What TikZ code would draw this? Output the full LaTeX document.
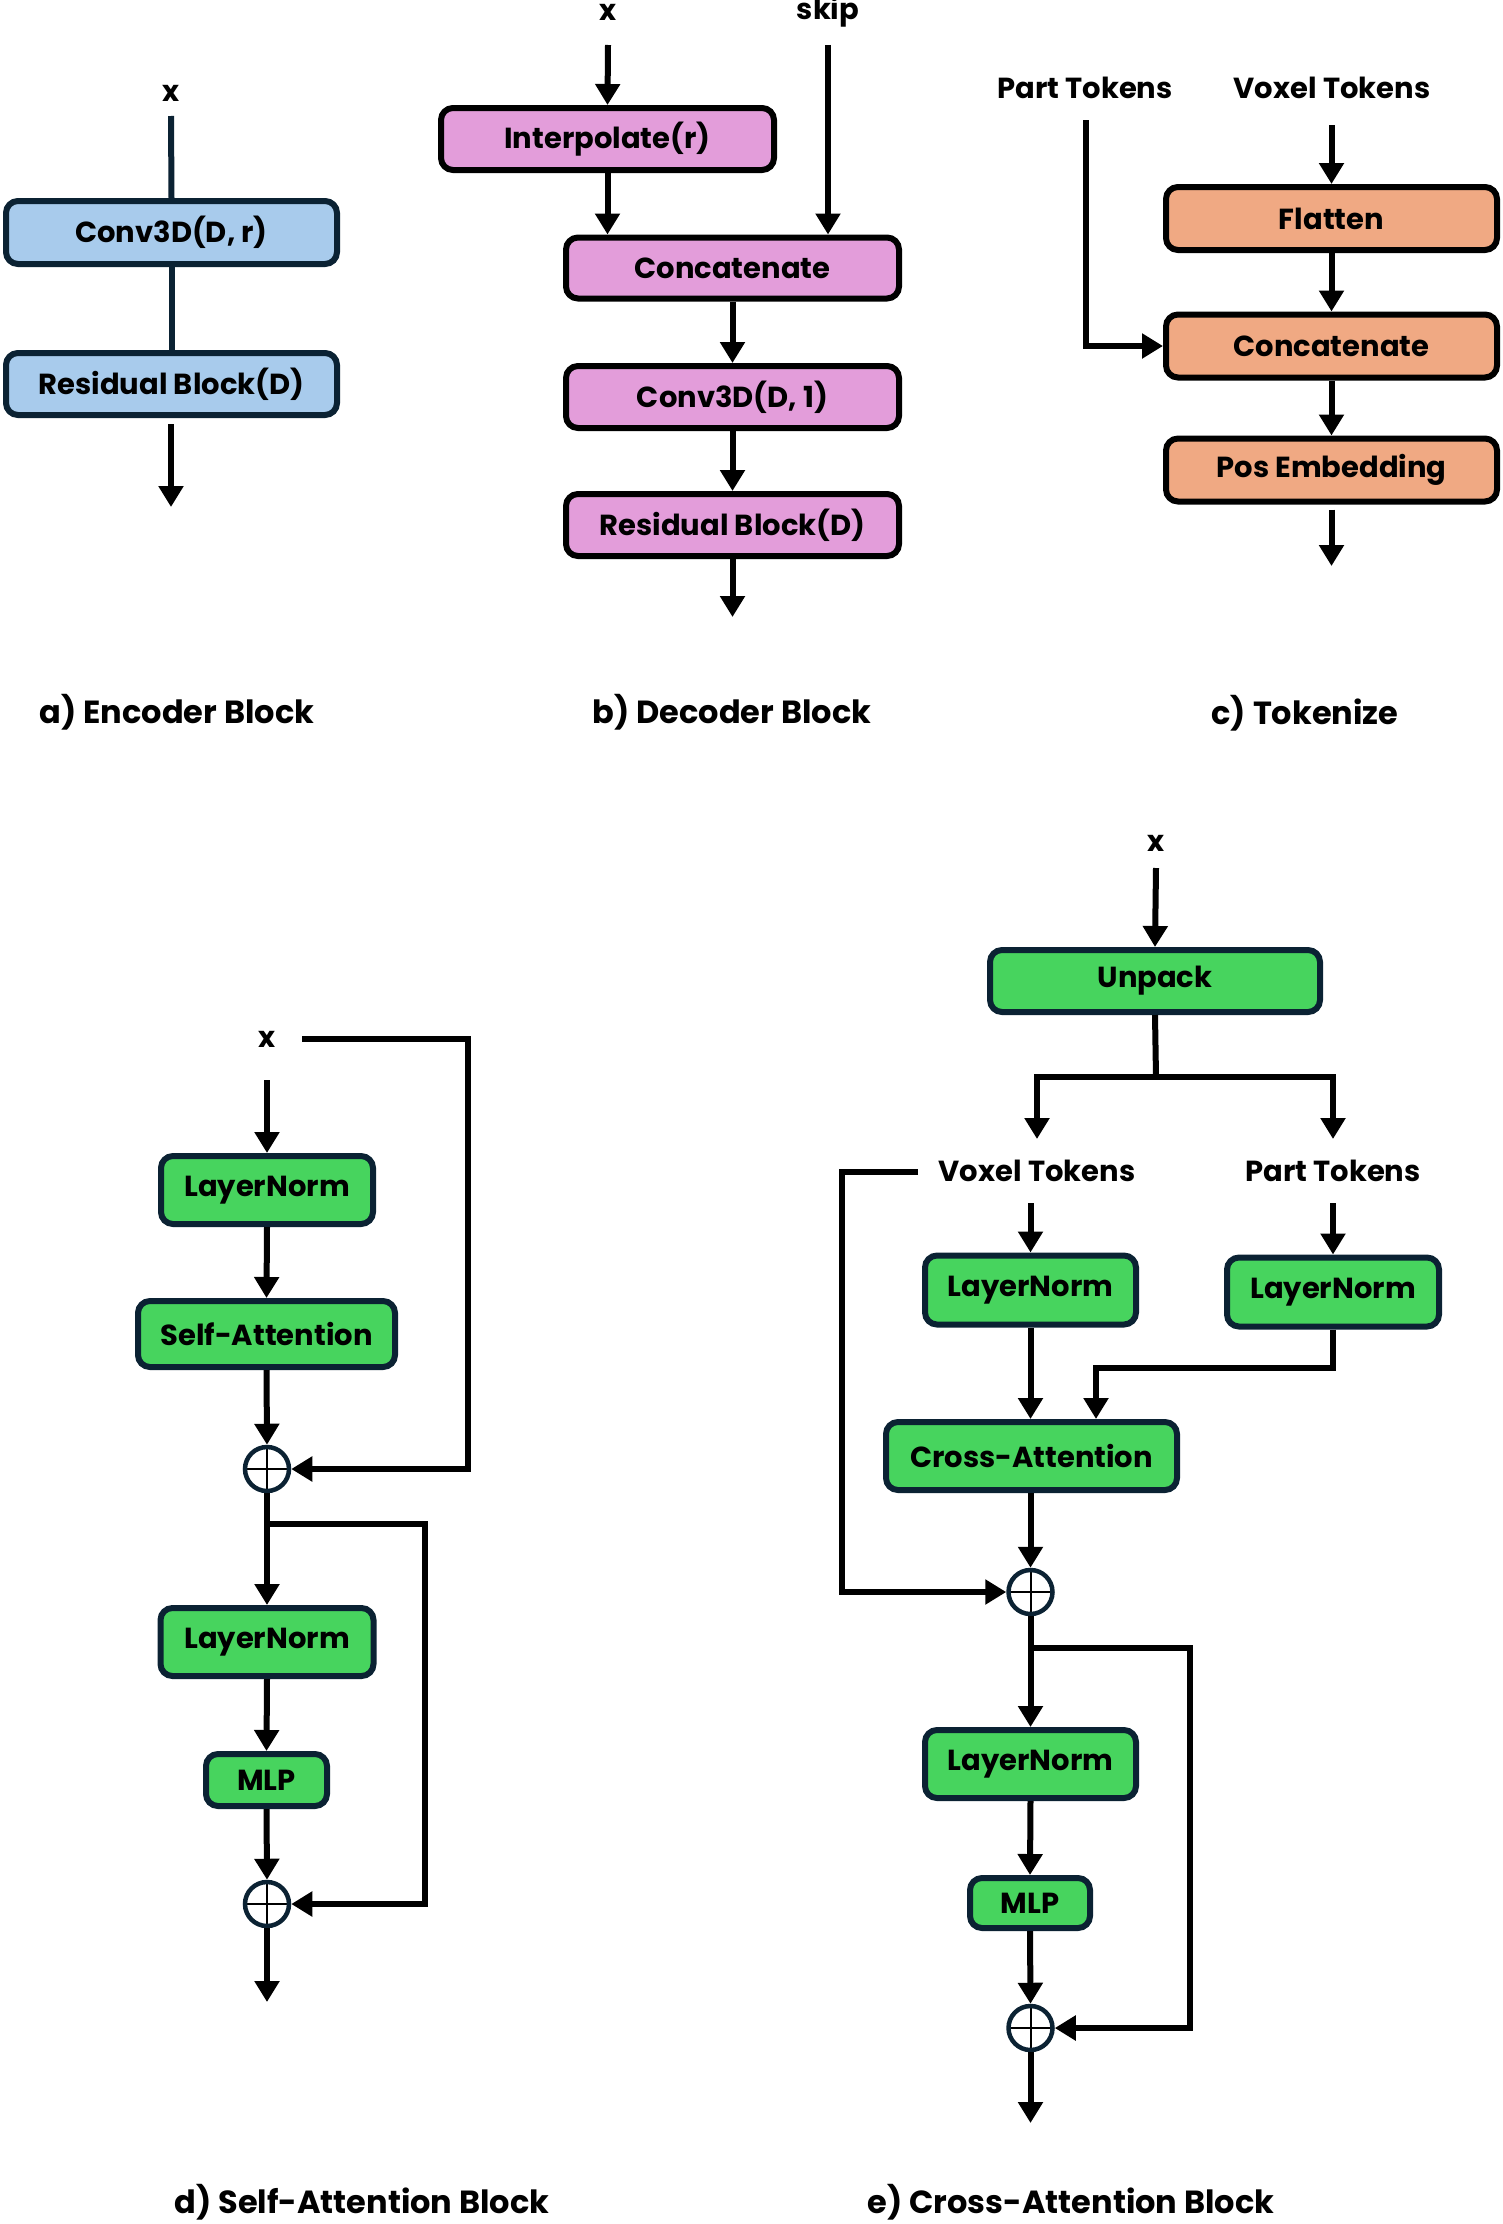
\documentclass[tikz,border=0pt]{standalone}
\usepackage{fontspec}
\setmainfont{Poppins}
\usetikzlibrary{arrows.meta,calc}
\definecolor{navy}{HTML}{0B2233}
\definecolor{blu}{HTML}{A8CBEC}
\definecolor{pnk}{HTML}{E39DDA}
\definecolor{org}{HTML}{F0A983}
\definecolor{grn}{HTML}{47D45E}
\begin{document}
\begin{tikzpicture}[x=1pt,y=-1pt,
  box/.style={draw=navy, line width=6pt, rounded corners=12pt, inner sep=0pt,
    font=\fontsize{29}{33}\selectfont\bfseries},
  lbl/.style={inner sep=0pt, font=\fontsize{29}{33}\selectfont\bfseries},
  ttl/.style={inner sep=0pt, font=\fontsize{32}{36}\selectfont\bfseries},
  arr/.style={line width=6pt, -{Triangle[length=21pt,width=24pt]}},
  ln/.style={line width=6pt},
  sumc/.style={circle, draw=navy, line width=4.5pt, minimum size=44pt, inner sep=0pt,
    path picture={\draw[black,line width=2pt]
      (path picture bounding box.north) -- (path picture bounding box.south)
      (path picture bounding box.west) -- (path picture bounding box.east);}}
]
\useasboundingbox (0,0) rectangle (1503,2224);

% ---------- a) Encoder block
\node[lbl] (ax) at (171,93) {x};
\coordinate (axs) at (171,116);
\node[box, fill=blu, minimum width=331, minimum height=63] (aconv) at (171.5,232.5) {Conv3D(D, r)};
\node[box, fill=blu, minimum width=331, minimum height=62] (ares) at (171.5,384) {Residual Block(D)};
\coordinate (aos) at (171,424);
\coordinate (aoe) at (171,507);
\draw[ln, navy] (axs) -- (aconv.north);
\draw[ln, navy] (aconv.south) -- (ares.north);
\draw[arr] (aos) -- (aoe);
\node[ttl] (at) at (177,712) {a) Encoder Block};

% ---------- b) Decoder block
\node[lbl] (bx) at (608,12) {x};
\node[lbl] (bskip) at (828,12) {skip};
\coordinate (bxs) at (608,45);
\coordinate (bss) at (828,45);
\node[box, draw=black, fill=pnk, minimum width=333, minimum height=62] (binter) at (607.5,139) {Interpolate(r)};
\node[box, draw=black, fill=pnk, minimum width=333, minimum height=61] (bcat) at (732.5,268) {Concatenate};
\node[box, draw=black, fill=pnk, minimum width=333, minimum height=62] (bconv) at (732.5,397) {Conv3D(D, 1)};
\node[box, draw=black, fill=pnk, minimum width=333, minimum height=62] (bres) at (732.5,525) {Residual Block(D)};
\coordinate (boe) at (732.5,617);
\draw[arr] (bxs) -- (binter.north);
\draw[arr] (binter.south) -- (binter.south |- bcat.north);
\draw[arr] (bss) -- (bss |- bcat.north);
\draw[arr] (bcat.south) -- (bconv.north);
\draw[arr] (bconv.south) -- (bres.north);
\draw[arr] (bres.south) -- (boe);
\node[ttl] (bt) at (732,712) {b) Decoder Block};

% ---------- c) Tokenize
\node[lbl] (cpart) at (1085,88) {Part Tokens};
\node[lbl] (cvox) at (1332,88) {Voxel Tokens};
\coordinate (cps) at (1086,120);
\coordinate (cvs) at (1331.5,125);
\node[box, draw=black, fill=org, minimum width=331, minimum height=63] (cflat) at (1331.5,218.5) {Flatten};
\node[box, draw=black, fill=org, minimum width=331, minimum height=63] (ccat) at (1331.5,346) {Concatenate};
\node[box, draw=black, fill=org, minimum width=331, minimum height=63] (cpos) at (1331.5,470) {Pos Embedding};
\coordinate (coe) at (1331.5,566);
\draw[arr] (cvs) -- (cflat.north);
\draw[arr] (cflat.south) -- (ccat.north);
\draw[arr] (ccat.south) -- (cpos.north);
\draw[arr] (cpos.south) ++(0,5) -- (coe);
\draw[arr, line join=miter] (cps) |- (ccat.west);
\node[ttl] (ct) at (1305,713) {c) Tokenize};

% ---------- d) Self-Attention block
\node[lbl] (dx) at (267,1039) {x};
\coordinate (dxs) at (267,1080);
\coordinate (dsk1) at (302,1039);
\coordinate (dsk2) at (468,1039);
\node[box, fill=grn, minimum width=212, minimum height=68] (dln1) at (267,1190) {LayerNorm};
\node[box, fill=grn, minimum width=257, minimum height=66] (dsa) at (266.5,1334) {Self-Attention};
\node[sumc] (dc1) at (267,1469) {};
\coordinate (dbr) at (267,1524);
\coordinate (dbr2) at (425,1524);
\node[box, fill=grn, minimum width=213, minimum height=68] (dln2) at (267,1642) {LayerNorm};
\node[box, fill=grn, minimum width=121, minimum height=52] (dmlp) at (266.5,1780) {MLP};
\node[sumc] (dc2) at (267,1904) {};
\coordinate (doe) at (267,2002);
\draw[arr] (dxs) -- (dln1.north);
\draw[arr] (dln1.south) -- (dsa.north);
\draw[arr] (dsa.south) -- (dc1.north);
\draw[arr, line join=miter] (dsk1) -- (dsk2) |- (dc1.east);
\draw[arr] (dc1.south) -- (dln2.north);
\draw[arr, line join=miter] (dbr) -- (dbr2) |- (dc2.east);
\draw[arr] (dln2.south) -- (dmlp.north);
\draw[arr] (dmlp.south) -- (dc2.north);
\draw[arr] (dc2.south) -- (doe);
\node[ttl] (dt) at (362,2202) {d) Self-Attention Block};

% ---------- e) Cross-Attention block
\node[lbl] (ex) at (1156,843) {x};
\coordinate (exs) at (1156,868);
\node[box, fill=grn, minimum width=330, minimum height=62] (eun) at (1155,981) {Unpack};
\coordinate (ebr) at (1156,1077);
\coordinate (ebl) at (1037,1077);
\coordinate (ebrr) at (1333,1077);
\coordinate (evt) at (1037,1139);
\coordinate (ept) at (1333,1139);
\node[lbl] (evox) at (1037,1171) {Voxel Tokens};
\node[lbl] (epart) at (1333,1171) {Part Tokens};
\coordinate (eres1) at (918,1172);
\coordinate (eres2) at (842,1172);
\coordinate (evs) at (1030.5,1203);
\coordinate (eps) at (1333,1203);
\node[box, fill=grn, minimum width=211, minimum height=69] (evln) at (1030.5,1290) {LayerNorm};
\node[box, fill=grn, minimum width=212, minimum height=69] (epln) at (1333,1292) {LayerNorm};
\coordinate (epk) at (1333,1368);
\coordinate (epk2) at (1096,1368);
\node[box, fill=grn, minimum width=291, minimum height=68] (eca) at (1031.5,1456) {Cross-Attention};
\node[sumc] (ec1) at (1030.5,1592) {};
\coordinate (ebb) at (1030.5,1648);
\coordinate (ebb2) at (1190,1648);
\node[box, fill=grn, minimum width=211, minimum height=68] (eln3) at (1030.5,1764) {LayerNorm};
\node[box, fill=grn, minimum width=120, minimum height=50] (emlp) at (1030,1903) {MLP};
\node[sumc] (ec2) at (1030.5,2028) {};
\coordinate (eoe) at (1030.5,2123);
\draw[arr] (exs) -- (eun.north);
\draw[ln] (eun.south) -- (ebr);
\draw[arr, line join=miter] (ebr) -| (evt);
\draw[arr, line join=miter] (ebr) -| (ept);
\draw[arr, line join=miter] (eres1) -- (eres2) |- (ec1.west);
\draw[arr] (evs) -- (evln.north);
\draw[arr] (eps) -- (epln.north);
\draw[arr] (evln.south) -- (evln.south |- eca.north);
\draw[arr, line join=miter] (epln.south) -- (epk) -- (epk2) -- (epk2 |- eca.north);
\draw[arr] (eca.south -| ec1) -- (ec1.north);
\draw[arr] (ec1.south) -- (eln3.north);
\draw[arr, line join=miter] (ebb) -- (ebb2) |- (ec2.east);
\draw[arr] (eln3.south) -- (emlp.north);
\draw[arr] (emlp.south) -- (ec2.north);
\draw[arr] (ec2.south) -- (eoe);
\node[ttl] (et) at (1071,2202) {e) Cross-Attention Block};
\end{tikzpicture}
\end{document}
